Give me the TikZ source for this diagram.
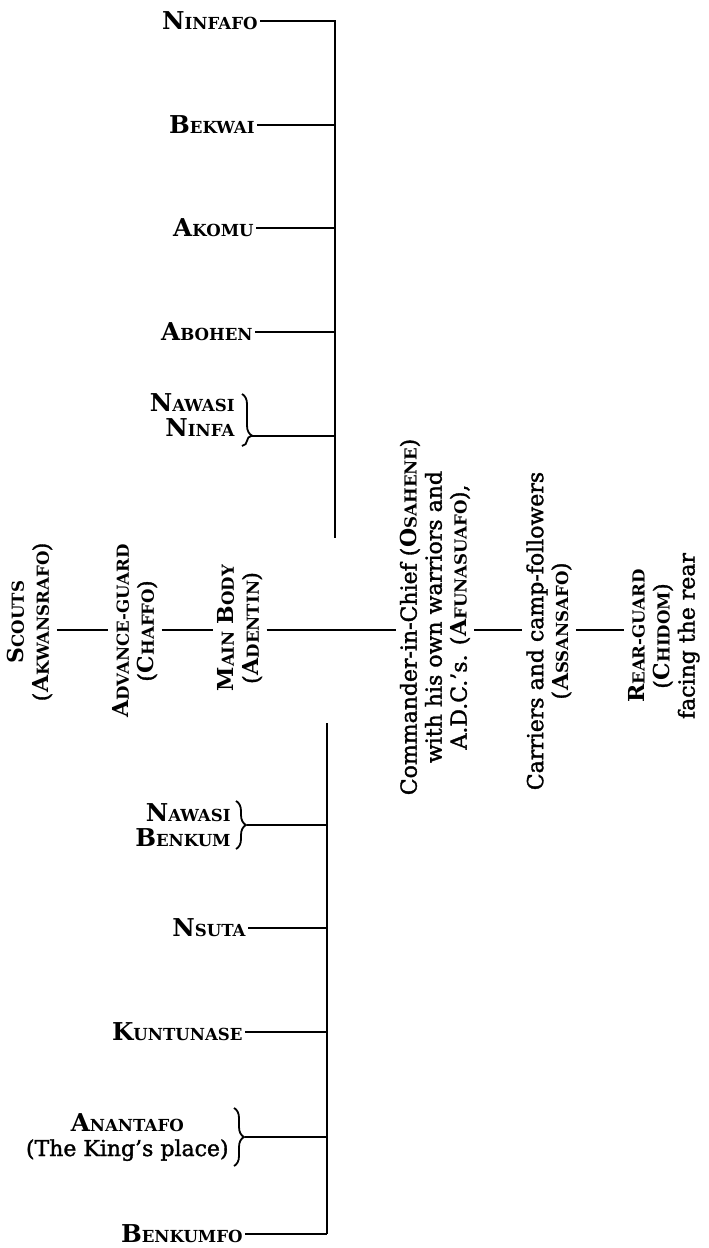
\documentclass[tikz,border=0pt]{standalone}
\usepackage{fontspec}
\setmainfont{DejaVu Serif}[BoldFont={DejaVu Serif Bold}]
\newfontfamily\semifont{DejaVu Serif}[FakeBold=1.5,Ligatures=TeX]
\usetikzlibrary{decorations.pathreplacing}
\newcommand\lblfont{\fontsize{12.3}{12.5}\selectfont}
\newcommand\txtfont{\semifont\fontsize{11}{12.5}\selectfont}
\newcommand\smc{\fontsize{8.3}{9}\selectfont}
\newcommand\SC[2]{{\normalfont\bfseries #1{\smc #2}}}
\begin{document}
\begin{tikzpicture}[x=0.5pt,y=-0.5pt,
  lbl/.style={inner sep=1pt, font=\lblfont, anchor=east},
  rot/.style={rotate=90, align=center, inner sep=2pt, font=\txtfont},
  ln/.style={line width=1.1pt},
  br/.style={line width=0.9pt, decorate, decoration={brace, amplitude=5pt, aspect=#1}},
  br/.default=0.5]
\useasboundingbox (0,0) rectangle (708,1248);

% vertical lines
\coordinate (ta) at (335,20);
\coordinate (tb) at (335,538);
\coordinate (ba) at (327,723);
\coordinate (bb) at (327,1234);
\draw[ln] (ta) -- (tb);
\draw[ln] (ba) -- (bb);

% top wing
\node[lbl] (ninfafo) at (260,21) {\SC{N}{INFAFO}};
\node[lbl] (bekwai) at (257,125) {\SC{B}{EKWAI}};
\node[lbl] (akomu) at (256,228) {\SC{A}{KOMU}};
\node[lbl] (abohen) at (255,332) {\SC{A}{BOHEN}};
\node[lbl, align=right] (nninfa) at (237,415) {\SC{N}{AWASI}\\\SC{N}{INFA}};
\draw[ln] (ninfafo.east) -- (ninfafo.east -| ta);
\draw[ln] (bekwai.east) -- (bekwai.east -| ta);
\draw[ln] (akomu.east) -- (akomu.east -| ta);
\draw[ln] (abohen.east) -- (abohen.east -| ta);
\draw[br=0.8] (242,394) -- (242,446);
\coordinate (nninfatip) at (252,436);
\draw[ln] (nninfatip) -- (nninfatip -| ta);

% bottom wing
\node[lbl, align=right] (nbenkum) at (233,825) {\SC{N}{AWASI}\\\SC{B}{ENKUM}};
\node[lbl] (nsuta) at (248,928) {\SC{N}{SUTA}};
\node[lbl] (kuntunase) at (245,1032) {\SC{K}{UNTUNASE}};
\node[lbl, align=center] (anantafo) at (231,1137) {\SC{A}{NANTAFO}\\{\txtfont (The King's place)}};
\node[lbl] (benkumfo) at (245,1234) {\SC{B}{ENKUMFO}};
\draw[br] (236,801) -- (236,849);
\coordinate (nbenkumtip) at (247,825);
\draw[ln] (nbenkumtip) -- (nbenkumtip -| ba);
\draw[ln] (nsuta.east) -- (nsuta.east -| ba);
\draw[ln] (kuntunase.east) -- (kuntunase.east -| ba);
\draw[br] (234,1108) -- (234,1166);
\coordinate (anantafotip) at (245,1137);
\draw[ln] (anantafotip) -- (anantafotip -| ba);
\draw[ln] (benkumfo.east) -- (benkumfo.east -| ba);

% main column
\node[rot] (scouts) at (30,622) {\SC{S}{COUTS}\\(\SC{A}{KWANSRAFO})};
\node[rot] (adv) at (135,631) {\SC{A}{DVANCE-GUARD}\\(\SC{C}{HAFFO})};
\node[rot] (mainbody) at (240,628) {\SC{M}{AIN} \SC{B}{ODY}\\(\SC{A}{DENTIN})};
\node[rot] (com) at (435,617) {Commander-in-Chief (\SC{O}{SAHENE})\\with his own warriors and\\A.D.C.'s. (\SC{A}{FUNASUAFO}),};
\node[rot] (car) at (549,631) {Carriers and camp-followers\\(\SC{A}{SSANSAFO})};
\node[rot] (rear) at (664,636) {\SC{R}{EAR-GUARD}\\(\SC{C}{HIDOM})\\facing the rear};

\coordinate (mid) at (0,630);
\draw[ln] (scouts.south |- mid) -- (adv.north |- mid);
\draw[ln] (adv.south |- mid) -- (mainbody.north |- mid);
\draw[ln] (mainbody.south |- mid) -- (com.north |- mid);
\draw[ln] (com.south |- mid) -- (car.north |- mid);
\draw[ln] (car.south |- mid) -- (rear.north |- mid);
\end{tikzpicture}
\end{document}
